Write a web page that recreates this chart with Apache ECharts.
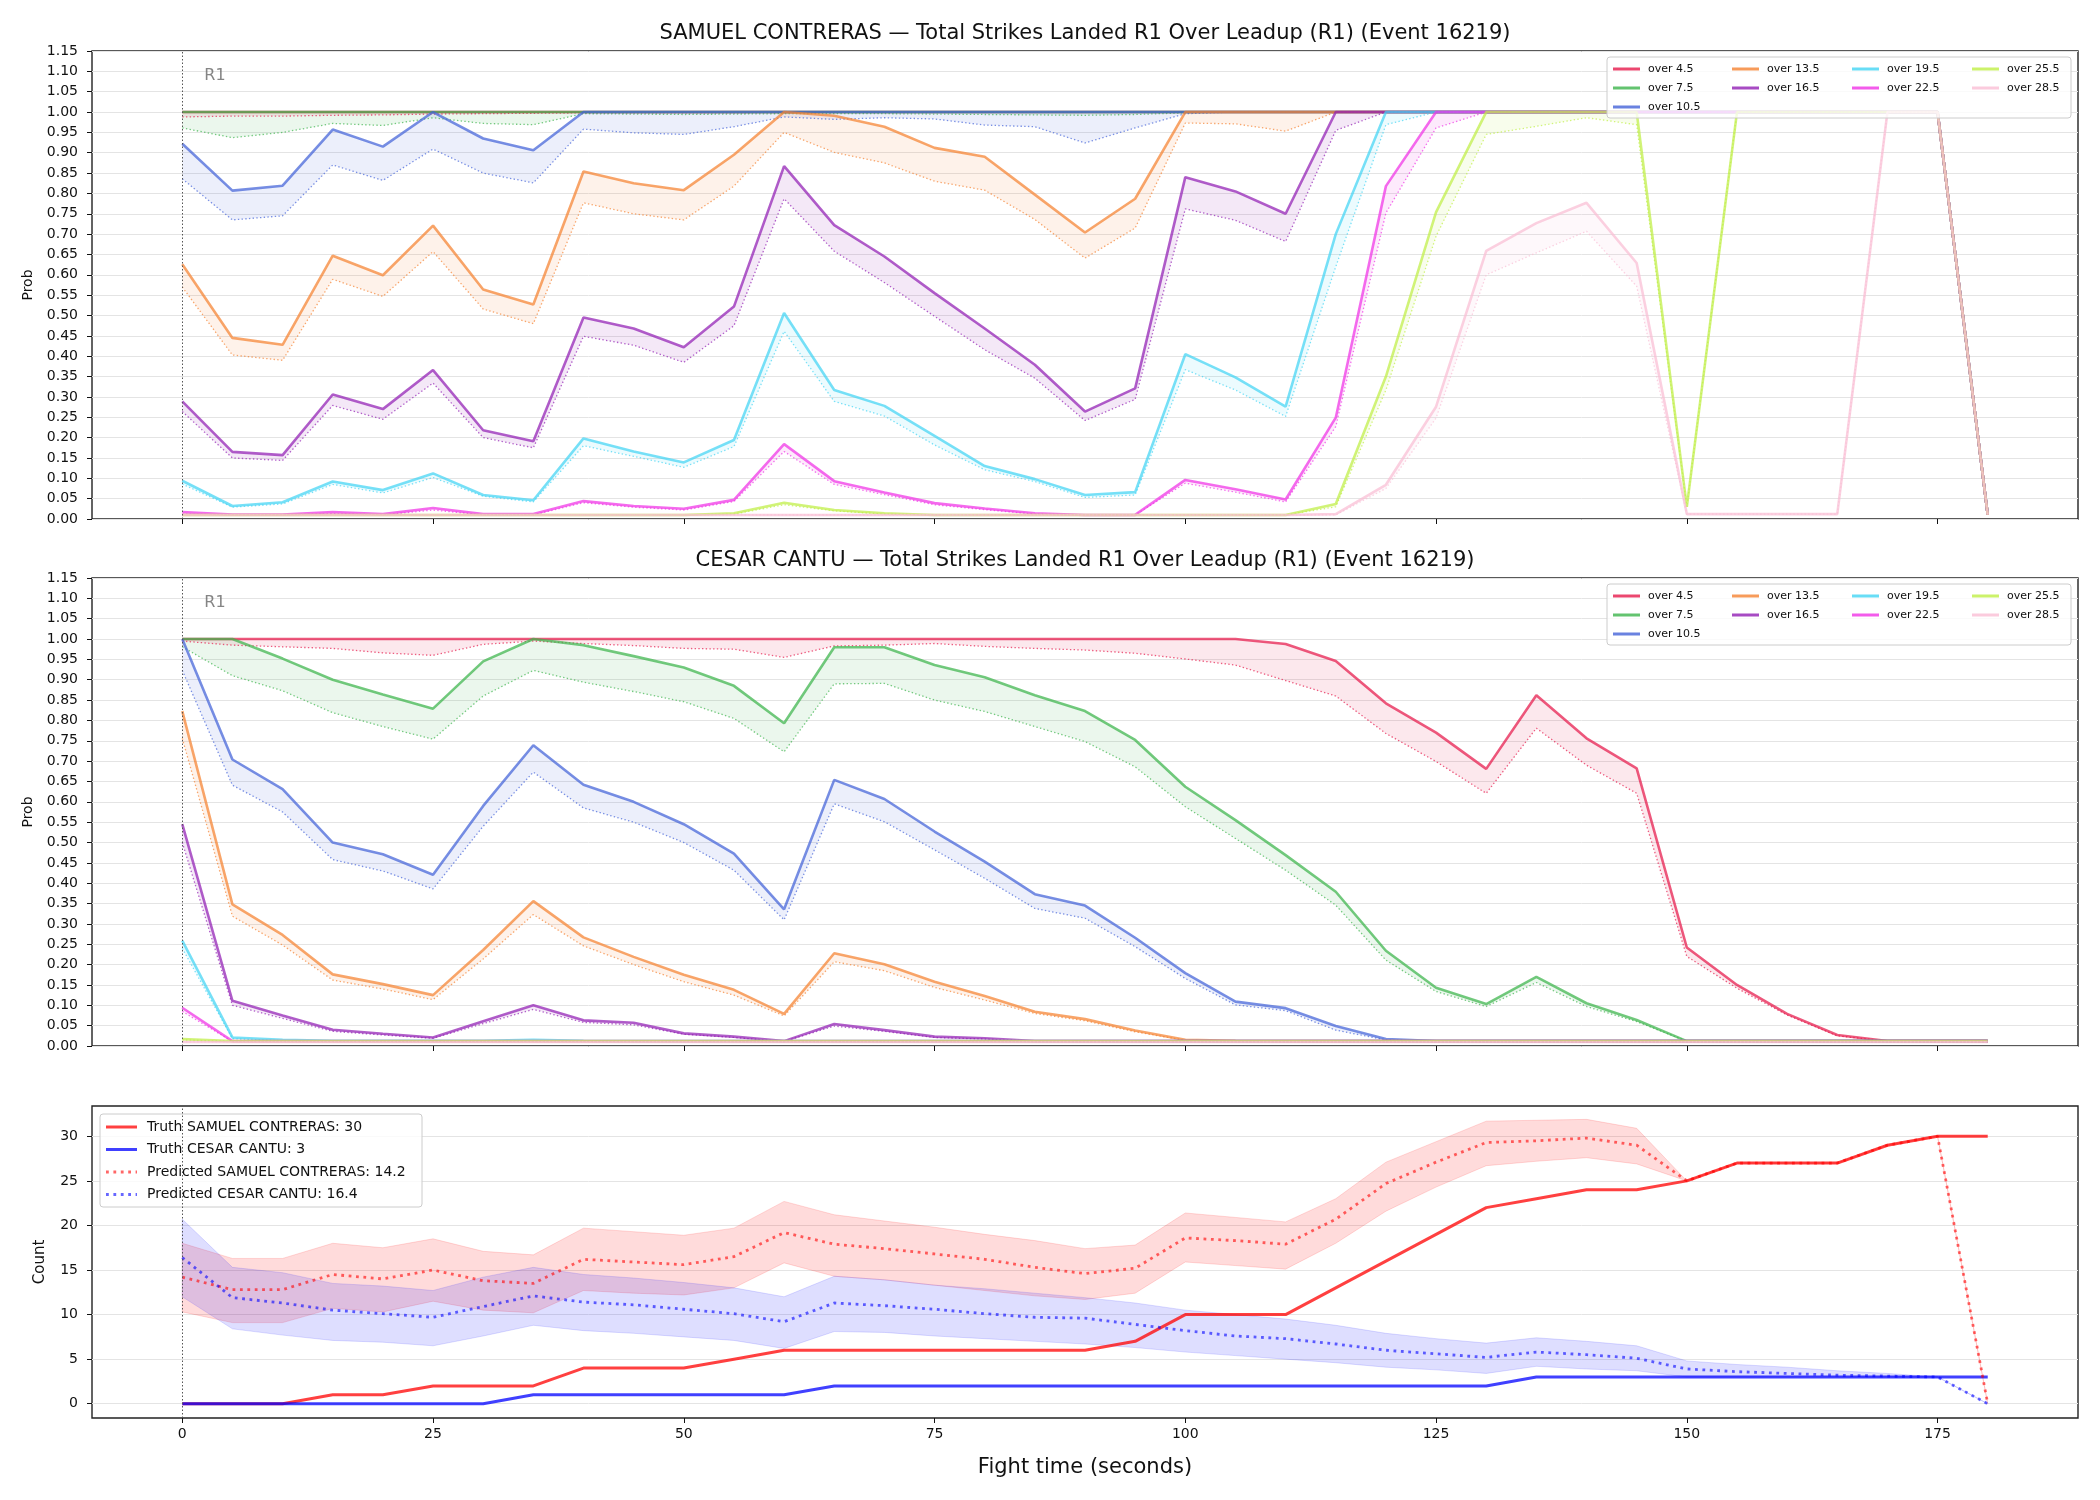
<!DOCTYPE html>
<html>
<head>
<meta charset="utf-8">
<script src="https://cdn.jsdelivr.net/npm/echarts@6/dist/echarts.min.js"></script>
<style>
  html, body { margin: 0; padding: 0; background: #fff; }
  #chart { width: 2100px; height: 1500px; }
</style>
</head>
<body>
<div id="chart"></div>
<script>
// fight time in seconds
const T = [0, 5, 10, 15, 20, 25, 30, 35, 40, 45,
  50, 55, 60, 65, 70, 75, 80, 85, 90, 95,
  100, 105, 110, 115, 120, 125, 130, 135, 140, 145,
  150, 155, 160, 165, 170, 175, 180]
const xTicks = [0, 25, 50, 75, 100, 125, 150, 175]
const countTicks = [0, 5, 10, 15, 20, 25, 30]
const roundStarts = [0]
const roundLabels = ['R1']
const thresholds = ['over 4.5', 'over 7.5', 'over 10.5', 'over 13.5', 'over 16.5', 'over 19.5', 'over 22.5', 'over 25.5', 'over 28.5']

// SAMUEL CONTRERAS: solid = prob, p = dotted (pre)
const sc45 = [1, 1, 1, 1, 1, 1, 1, 1, 1, 1,
  1, 1, 1, 1, 1, 1, 1, 1, 1, 1,
  1, 1, 1, 1, 1, 1, 1, 1, 1, 1,
  1, 1, 1, 1, 1, 1, 0.01]
const sc45p = [0.988, 0.990, 0.990, 0.992, 0.993, 0.995, 0.996, 0.997, 0.998, 0.998,
  0.998, 0.998, 0.999, 0.999, 0.999, 0.999, 0.999, 0.999, 0.999, 0.999,
  1, 1, 1, 1, 1, 1, 1, 1, 1, 1,
  1, 1, 1, 1, 1, 1, 0.01]
const sc75 = [1, 1, 1, 1, 1, 1, 1, 1, 1, 1,
  1, 1, 1, 1, 1, 1, 1, 1, 1, 1,
  1, 1, 1, 1, 1, 1, 1, 1, 1, 1,
  1, 1, 1, 1, 1, 1, 0.01]
const sc75p = [0.961, 0.937, 0.950, 0.972, 0.967, 0.986, 0.972, 0.969, 0.996, 0.995,
  0.994, 0.995, 0.996, 0.996, 0.996, 0.995, 0.994, 0.993, 0.992, 0.994,
  0.998, 1, 1, 1, 1, 1, 1, 1, 1, 1,
  1, 1, 1, 1, 1, 1, 0.01]
const sc105 = [0.922, 0.807, 0.819, 0.957, 0.915, 1, 0.935, 0.906, 1, 1,
  1, 1, 1, 1, 1, 1, 1, 1, 1, 1,
  1, 1, 1, 1, 1, 1, 1, 1, 1, 1,
  1, 1, 1, 1, 1, 1, 0.01]
const sc105p = [0.836, 0.735, 0.745, 0.870, 0.832, 0.909, 0.850, 0.826, 0.958, 0.949,
  0.945, 0.964, 0.988, 0.982, 0.986, 0.983, 0.968, 0.964, 0.924, 0.961,
  0.996, 1, 1, 1, 1, 1, 1, 1, 1, 1,
  1, 1, 1, 1, 1, 1, 0.01]
const sc135 = [0.626, 0.445, 0.428, 0.647, 0.599, 0.721, 0.564, 0.527, 0.854, 0.825,
  0.808, 0.895, 1, 0.991, 0.964, 0.912, 0.890, 0.797, 0.704, 0.787,
  1, 1, 1, 1, 1, 1, 1, 1, 1, 1,
  1, 1, 1, 1, 1, 1, 0.01]
const sc135p = [0.570, 0.403, 0.390, 0.589, 0.547, 0.657, 0.516, 0.480, 0.777, 0.750,
  0.735, 0.818, 0.950, 0.901, 0.875, 0.830, 0.808, 0.736, 0.641, 0.715,
  0.973, 0.971, 0.953, 1, 1, 1, 1, 1, 1, 1,
  1, 1, 1, 1, 1, 1, 0.01]
const sc165 = [0.289, 0.165, 0.157, 0.306, 0.270, 0.366, 0.218, 0.191, 0.495, 0.468,
  0.422, 0.522, 0.867, 0.722, 0.645, 0.555, 0.468, 0.379, 0.264, 0.321,
  0.840, 0.805, 0.750, 1, 1, 1, 1, 1, 1, 1,
  1, 1, 1, 1, 1, 1, 0.01]
const sc165p = [0.264, 0.150, 0.144, 0.279, 0.245, 0.334, 0.200, 0.175, 0.449, 0.427,
  0.385, 0.475, 0.787, 0.658, 0.581, 0.498, 0.416, 0.346, 0.242, 0.294,
  0.762, 0.734, 0.682, 0.955, 1, 1, 1, 1, 1, 1,
  1, 1, 1, 1, 1, 1, 0.01]
const sc195 = [0.094, 0.032, 0.041, 0.092, 0.071, 0.112, 0.059, 0.046, 0.198, 0.166,
  0.139, 0.194, 0.506, 0.317, 0.278, 0.204, 0.130, 0.098, 0.059, 0.066,
  0.405, 0.348, 0.276, 0.700, 1, 1, 1, 1, 1, 1,
  1, 1, 1, 1, 1, 1, 0.01]
const sc195p = [0.086, 0.029, 0.037, 0.085, 0.064, 0.102, 0.056, 0.042, 0.180, 0.154,
  0.127, 0.178, 0.461, 0.289, 0.253, 0.182, 0.121, 0.092, 0.053, 0.059,
  0.367, 0.317, 0.252, 0.620, 0.969, 1, 1, 1, 1, 1,
  1, 1, 1, 1, 1, 1, 0.01]
const sc225 = [0.017, 0.011, 0.011, 0.017, 0.012, 0.027, 0.012, 0.012, 0.044, 0.032,
  0.025, 0.047, 0.184, 0.093, 0.065, 0.039, 0.026, 0.014, 0.010, 0.010,
  0.096, 0.073, 0.048, 0.249, 0.818, 1, 1, 1, 1, 1,
  1, 1, 1, 1, 1, 1, 0.01]
const sc225p = [0.012, 0.010, 0.010, 0.013, 0.010, 0.022, 0.010, 0.010, 0.040, 0.029,
  0.022, 0.043, 0.166, 0.085, 0.060, 0.035, 0.023, 0.012, 0.010, 0.010,
  0.088, 0.066, 0.042, 0.227, 0.752, 0.961, 1, 1, 1, 1,
  1, 1, 1, 1, 1, 1, 0.01]
const sc255 = [0.010, 0.010, 0.010, 0.010, 0.010, 0.010, 0.010, 0.010, 0.010, 0.010,
  0.010, 0.014, 0.040, 0.022, 0.014, 0.010, 0.010, 0.010, 0.010, 0.010,
  0.010, 0.010, 0.010, 0.037, 0.350, 0.754, 1, 1, 1, 1,
  0.030, 1, 1, 1, 1, 1, 0.01]
const sc255p = [0.010, 0.010, 0.010, 0.010, 0.010, 0.010, 0.010, 0.010, 0.010, 0.010,
  0.010, 0.012, 0.035, 0.020, 0.012, 0.010, 0.010, 0.010, 0.010, 0.010,
  0.010, 0.010, 0.010, 0.030, 0.317, 0.695, 0.945, 0.965, 0.986, 0.969,
  0.030, 1, 1, 1, 1, 1, 0.01]
const sc285 = [0.010, 0.010, 0.010, 0.010, 0.010, 0.010, 0.010, 0.010, 0.010, 0.010,
  0.010, 0.010, 0.010, 0.010, 0.010, 0.010, 0.010, 0.010, 0.010, 0.010,
  0.010, 0.010, 0.010, 0.012, 0.084, 0.276, 0.659, 0.727, 0.777, 0.629,
  0.012, 0.012, 0.012, 0.012, 1, 1, 0.01]
const sc285p = [0.010, 0.010, 0.010, 0.010, 0.010, 0.010, 0.010, 0.010, 0.010, 0.010,
  0.010, 0.010, 0.010, 0.010, 0.010, 0.010, 0.010, 0.010, 0.010, 0.010,
  0.010, 0.010, 0.010, 0.010, 0.075, 0.248, 0.600, 0.654, 0.707, 0.572,
  0.012, 0.012, 0.012, 0.012, 1, 1, 0.01]

// CESAR CANTU
const cc45 = [1, 1, 1, 1, 1, 1, 1, 1, 1, 1,
  1, 1, 1, 1, 1, 1, 1, 1, 1, 1,
  1, 1, 0.988, 0.946, 0.842, 0.770, 0.681, 0.862, 0.756, 0.682,
  0.242, 0.150, 0.079, 0.027, 0.012, 0.012, 0.012]
const cc45p = [0.995, 0.985, 0.981, 0.977, 0.966, 0.960, 0.987, 0.995, 0.989, 0.984,
  0.977, 0.975, 0.955, 0.983, 0.985, 0.989, 0.982, 0.977, 0.973, 0.965,
  0.951, 0.936, 0.898, 0.860, 0.768, 0.699, 0.621, 0.781, 0.690, 0.621,
  0.220, 0.142, 0.076, 0.025, 0.012, 0.012, 0.012]
const cc75 = [1, 1, 0.952, 0.900, 0.864, 0.829, 0.945, 1, 0.985, 0.958,
  0.930, 0.885, 0.793, 0.980, 0.980, 0.936, 0.906, 0.862, 0.823, 0.752,
  0.637, 0.555, 0.469, 0.379, 0.234, 0.143, 0.103, 0.170, 0.105, 0.064,
  0.012, 0.012, 0.012, 0.012, 0.012, 0.012, 0.012]
const cc75p = [0.981, 0.910, 0.873, 0.819, 0.785, 0.754, 0.860, 0.923, 0.894, 0.871,
  0.846, 0.805, 0.723, 0.890, 0.891, 0.850, 0.822, 0.785, 0.748, 0.686,
  0.588, 0.510, 0.432, 0.346, 0.211, 0.134, 0.097, 0.156, 0.097, 0.060,
  0.012, 0.012, 0.012, 0.012, 0.012, 0.012, 0.012]
const cc105 = [1, 0.704, 0.631, 0.500, 0.471, 0.421, 0.590, 0.739, 0.642, 0.600,
  0.545, 0.473, 0.336, 0.654, 0.607, 0.527, 0.453, 0.373, 0.345, 0.266,
  0.179, 0.109, 0.093, 0.049, 0.017, 0.012, 0.012, 0.012, 0.012, 0.012,
  0.012, 0.012, 0.012, 0.012, 0.012, 0.012, 0.012]
const cc105p = [0.923, 0.641, 0.575, 0.458, 0.430, 0.386, 0.540, 0.673, 0.585, 0.550,
  0.500, 0.432, 0.310, 0.595, 0.551, 0.482, 0.412, 0.338, 0.314, 0.244,
  0.166, 0.101, 0.087, 0.039, 0.015, 0.012, 0.012, 0.012, 0.012, 0.012,
  0.012, 0.012, 0.012, 0.012, 0.012, 0.012, 0.012]
const cc135 = [0.823, 0.348, 0.273, 0.176, 0.152, 0.125, 0.236, 0.356, 0.267, 0.219,
  0.175, 0.138, 0.079, 0.228, 0.201, 0.158, 0.123, 0.084, 0.066, 0.038,
  0.015, 0.013, 0.012, 0.012, 0.012, 0.012, 0.012, 0.012, 0.012, 0.012,
  0.012, 0.012, 0.012, 0.012, 0.012, 0.012, 0.012]
const cc135p = [0.756, 0.319, 0.248, 0.162, 0.140, 0.114, 0.214, 0.323, 0.246, 0.200,
  0.158, 0.125, 0.074, 0.207, 0.185, 0.144, 0.113, 0.080, 0.062, 0.035,
  0.014, 0.012, 0.012, 0.012, 0.012, 0.012, 0.012, 0.012, 0.012, 0.012,
  0.012, 0.012, 0.012, 0.012, 0.012, 0.012, 0.012]
const cc165 = [0.545, 0.111, 0.075, 0.040, 0.030, 0.021, 0.061, 0.100, 0.063, 0.057,
  0.031, 0.023, 0.012, 0.054, 0.039, 0.023, 0.019, 0.012, 0.012, 0.012,
  0.012, 0.012, 0.012, 0.012, 0.012, 0.012, 0.012, 0.012, 0.012, 0.012,
  0.012, 0.012, 0.012, 0.012, 0.012, 0.012, 0.012]
const cc165p = [0.500, 0.100, 0.068, 0.036, 0.027, 0.019, 0.055, 0.090, 0.058, 0.052,
  0.029, 0.021, 0.011, 0.049, 0.036, 0.021, 0.017, 0.012, 0.012, 0.012,
  0.012, 0.012, 0.012, 0.012, 0.012, 0.012, 0.012, 0.012, 0.012, 0.012,
  0.012, 0.012, 0.012, 0.012, 0.012, 0.012, 0.012]
const cc195 = [0.259, 0.021, 0.015, 0.013, 0.013, 0.013, 0.013, 0.015, 0.013, 0.012,
  0.012, 0.012, 0.012, 0.012, 0.012, 0.012, 0.012, 0.012, 0.012, 0.012,
  0.012, 0.012, 0.012, 0.012, 0.012, 0.012, 0.012, 0.012, 0.012, 0.012,
  0.012, 0.012, 0.012, 0.012, 0.012, 0.012, 0.012]
const cc195p = [0.240, 0.018, 0.013, 0.012, 0.012, 0.012, 0.012, 0.012, 0.012, 0.012,
  0.012, 0.012, 0.012, 0.012, 0.012, 0.012, 0.012, 0.012, 0.012, 0.012,
  0.012, 0.012, 0.012, 0.012, 0.012, 0.012, 0.012, 0.012, 0.012, 0.012,
  0.012, 0.012, 0.012, 0.012, 0.012, 0.012, 0.012]
const cc225 = [0.094, 0.012, 0.012, 0.012, 0.012, 0.012, 0.012, 0.012, 0.012, 0.012,
  0.012, 0.012, 0.012, 0.012, 0.012, 0.012, 0.012, 0.012, 0.012, 0.012,
  0.012, 0.012, 0.012, 0.012, 0.012, 0.012, 0.012, 0.012, 0.012, 0.012,
  0.012, 0.012, 0.012, 0.012, 0.012, 0.012, 0.012]
const cc225p = [0.085, 0.011, 0.011, 0.011, 0.011, 0.011, 0.011, 0.011, 0.011, 0.011,
  0.011, 0.011, 0.011, 0.011, 0.011, 0.011, 0.011, 0.011, 0.011, 0.011,
  0.011, 0.011, 0.011, 0.011, 0.011, 0.011, 0.011, 0.011, 0.011, 0.011,
  0.011, 0.011, 0.011, 0.011, 0.011, 0.011, 0.011]
const cc255 = [0.017, 0.012, 0.012, 0.012, 0.012, 0.012, 0.012, 0.012, 0.012, 0.012,
  0.012, 0.012, 0.012, 0.012, 0.012, 0.012, 0.012, 0.012, 0.012, 0.012,
  0.012, 0.012, 0.012, 0.012, 0.012, 0.012, 0.012, 0.012, 0.012, 0.012,
  0.012, 0.012, 0.012, 0.012, 0.012, 0.012, 0.012]
const cc255p = [0.015, 0.011, 0.011, 0.011, 0.011, 0.011, 0.011, 0.011, 0.011, 0.011,
  0.011, 0.011, 0.011, 0.011, 0.011, 0.011, 0.011, 0.011, 0.011, 0.011,
  0.011, 0.011, 0.011, 0.011, 0.011, 0.011, 0.011, 0.011, 0.011, 0.011,
  0.011, 0.011, 0.011, 0.011, 0.011, 0.011, 0.011]
const cc285 = [0.010, 0.010, 0.010, 0.010, 0.010, 0.010, 0.010, 0.010, 0.010, 0.010,
  0.010, 0.010, 0.010, 0.010, 0.010, 0.010, 0.010, 0.010, 0.010, 0.010,
  0.010, 0.010, 0.010, 0.010, 0.010, 0.010, 0.010, 0.010, 0.010, 0.010,
  0.010, 0.010, 0.010, 0.010, 0.010, 0.010, 0.010]
const cc285p = [0.010, 0.010, 0.010, 0.010, 0.010, 0.010, 0.010, 0.010, 0.010, 0.010,
  0.010, 0.010, 0.010, 0.010, 0.010, 0.010, 0.010, 0.010, 0.010, 0.010,
  0.010, 0.010, 0.010, 0.010, 0.010, 0.010, 0.010, 0.010, 0.010, 0.010,
  0.010, 0.010, 0.010, 0.010, 0.010, 0.010, 0.010]

// 累计数（下面的图）
const truthSC = [0, 0, 0, 1, 1, 2, 2, 2, 4, 4,
  4, 5, 6, 6, 6, 6, 6, 6, 6, 7,
  10, 10, 10, 13, 16, 19, 22, 23, 24, 24,
  25, 27, 27, 27, 29, 30, 30]
const truthCC = [0, 0, 0, 0, 0, 0, 0, 1, 1, 1,
  1, 1, 1, 2, 2, 2, 2, 2, 2, 2,
  2, 2, 2, 2, 2, 2, 2, 3, 3, 3,
  3, 3, 3, 3, 3, 3, 3]
const predSC = [14.2, 12.8, 12.8, 14.5, 14.0, 15.0, 13.8, 13.5, 16.2, 15.9,
  15.6, 16.5, 19.2, 17.9, 17.4, 16.8, 16.2, 15.3, 14.6, 15.2,
  18.6, 18.3, 17.9, 20.7, 24.7, 27.1, 29.3, 29.5, 29.8, 29.0,
  25.0, 27.0, 27.0, 27.0, 29.0, 30.0, 0]
const predSCHi = [18.0, 16.3, 16.3, 18.0, 17.5, 18.5, 17.1, 16.7, 19.7, 19.3,
  18.9, 19.7, 22.7, 21.2, 20.5, 19.8, 19.0, 18.3, 17.4, 17.8,
  21.4, 20.9, 20.4, 23.0, 27.1, 29.4, 31.7, 31.8, 31.9, 30.9,
  25.0, 27.0, 27.0, 27.0, 29.0, 30.0, 0]
const predSCLo = [10.3, 9.1, 9.1, 10.7, 10.3, 11.5, 10.5, 10.2, 12.7, 12.4,
  12.2, 13.0, 15.8, 14.3, 13.9, 13.3, 12.7, 12.1, 11.7, 12.4,
  15.9, 15.5, 15.1, 18.0, 21.6, 24.3, 26.7, 27.2, 27.6, 26.9,
  25.0, 27.0, 27.0, 27.0, 29.0, 30.0, 0]
const predCC = [16.4, 11.9, 11.3, 10.5, 10.1, 9.7, 10.9, 12.1, 11.4, 11.1,
  10.6, 10.1, 9.2, 11.3, 11.0, 10.6, 10.1, 9.7, 9.6, 8.9,
  8.2, 7.6, 7.3, 6.7, 6.0, 5.6, 5.2, 5.8, 5.5, 5.1,
  3.9, 3.6, 3.4, 3.2, 3.1, 3.0, 0]
const predCCHi = [20.7, 15.3, 14.7, 13.5, 13.2, 12.7, 14.2, 15.3, 14.5, 14.1,
  13.6, 13.0, 12.0, 14.3, 13.9, 13.3, 12.9, 12.4, 11.9, 11.3,
  10.5, 10.0, 9.5, 8.8, 7.9, 7.3, 6.8, 7.4, 7.0, 6.5,
  4.8, 4.4, 4.1, 3.7, 3.4, 3.0, 0]
const predCCLo = [12.0, 8.4, 7.7, 7.1, 6.9, 6.5, 7.6, 8.8, 8.2, 7.9,
  7.5, 7.1, 6.2, 8.1, 8.0, 7.6, 7.3, 7.0, 6.7, 6.3,
  5.8, 5.4, 5.0, 4.6, 4.1, 3.8, 3.4, 4.2, 3.9, 3.7,
  3.0, 3.0, 3.0, 3.0, 3.0, 3.0, 0]

const scSolid = [sc45, sc75, sc105, sc135, sc165, sc195, sc225, sc255, sc285]
const scDotted = [sc45p, sc75p, sc105p, sc135p, sc165p, sc195p, sc225p, sc255p, sc285p]
const ccSolid = [cc45, cc75, cc105, cc135, cc165, cc195, cc225, cc255, cc285]
const ccDotted = [cc45p, cc75p, cc105p, cc135p, cc165p, cc195p, cc225p, cc255p, cc285p]

const COLORS = ['#e6194b', '#3cb44b', '#4363d8', '#f58231', '#911eb4', '#42d4f4', '#f032e6', '#bfef45', '#fabed4']
const FONT = 'DejaVu Sans'
const INK = '#111'

function rgba(hex, a) {
  const n = parseInt(hex.slice(1), 16)
  return `rgba(${(n >> 16) & 255},${(n >> 8) & 255},${n & 255},${a})`
}

// 两条线之间的填充
function band(gi, upper, lower, fill, stroke) {
  return {
    type: 'custom',
    xAxisIndex: gi,
    yAxisIndex: gi,
    silent: true,
    clip: true,
    data: [[T[0], lower[0]]],
    renderItem: function (params, api) {
      const pts = []
      T.forEach((t, i) => pts.push(api.coord([t, upper[i]])))
      for (let i = T.length - 1; i >= 0; i--) pts.push(api.coord([T[i], lower[i]]))
      return {
        type: 'polygon',
        shape: { points: pts },
        style: { fill: fill, stroke: stroke || 'none', lineWidth: stroke ? 1 : 0 }
      }
    }
  }
}

function line(gi, name, vals, color, width, type) {
  return {
    type: 'line',
    name: name,
    xAxisIndex: gi,
    yAxisIndex: gi,
    data: T.map((t, i) => [t, vals[i]]),
    showSymbol: false,
    symbol: 'none',
    silent: true,
    itemStyle: { color: color },
    lineStyle: { color: color, width: width, type: type, cap: 'butt' },
    emphasis: { disabled: true }
  }
}

function probPanel(gi, solid, dotted) {
  const out = []
  thresholds.forEach((name, k) => {
    const s = solid[k]
    const d = dotted[k]
    const hi = s.map((v, i) => Math.max(v, d[i]))
    const lo = s.map((v, i) => Math.min(v, d[i]))
    out.push(band(gi, hi, lo, rgba(COLORS[k], 0.1)))
    out.push(line(gi, name, s, rgba(COLORS[k], 0.72), 2.6, 'solid'))
    out.push(line(gi, name + ' pre', d, rgba(COLORS[k], 0.7), 1.3, [1.4, 2.3]))
  })
  return out
}

// 回合分隔线 + R1 文本
function roundMarker(gi, labelY, showText) {
  return {
    type: 'scatter',
    xAxisIndex: gi,
    yAxisIndex: gi,
    silent: true,
    symbolSize: 0,
    data: [[roundStarts[0] + 2.2, labelY]],
    label: {
      show: showText,
      formatter: roundLabels[0],
      position: 'right',
      distance: 0,
      fontSize: 16,
      color: '#666',
      fontFamily: FONT
    },
    markLine: {
      silent: true,
      symbol: 'none',
      label: { show: false },
      lineStyle: { color: '#555', width: 1, type: [1.5, 2] },
      data: roundStarts.map(x => ({ xAxis: x }))
    }
  }
}

function xAxis(gi, withLabels) {
  return {
    type: 'value',
    gridIndex: gi,
    min: -9,
    max: 189,
    axisLine: { show: false, onZero: false },
    axisTick: { show: true, length: 5, customValues: xTicks, lineStyle: { color: INK, width: 1 } },
    axisLabel: { show: withLabels, customValues: xTicks, fontSize: 14, color: INK, fontFamily: FONT, margin: 9 },
    splitLine: { show: false },
    name: withLabels ? 'Fight time (seconds)' : '',
    nameLocation: 'middle',
    nameGap: 39,
    nameTextStyle: { fontSize: 21, color: INK, fontFamily: FONT }
  }
}

function probAxis(gi) {
  return {
    type: 'value',
    gridIndex: gi,
    min: 0,
    max: 1.15,
    interval: 0.05,
    axisLine: { show: false, onZero: false },
    axisTick: { show: true, length: 5, lineStyle: { color: INK, width: 1 } },
    axisLabel: { fontSize: 14, color: INK, fontFamily: FONT, margin: 14, formatter: v => v.toFixed(2) },
    splitLine: { show: true, lineStyle: { color: '#e4e4e4', width: 1 } },
    name: 'Prob',
    nameLocation: 'middle',
    nameGap: 57,
    nameTextStyle: { fontSize: 14, color: INK, fontFamily: FONT }
  }
}

// 图例：按列拆开，模仿 ncol=4 的列优先排列
function probLegends(top) {
  const cols = [[0, 1, 2], [3, 4], [5, 6], [7, 8]]
  const lefts = [1613, 1732, 1852, 1972]
  return cols.map((c, j) => ({
    left: lefts[j],
    top: top,
    orient: 'vertical',
    padding: 0,
    itemGap: 6,
    itemWidth: 27,
    itemHeight: 3,
    selectedMode: false,
    icon: 'rect',
    itemStyle: { borderWidth: 0 },
    textStyle: { fontSize: 11, lineHeight: 13, color: INK, fontFamily: FONT, padding: [0, 0, 0, 3] },
    data: c.map(k => ({ name: thresholds[k], itemStyle: { color: rgba(COLORS[k], 0.8) } })),
    z: 6
  }))
}

const DOT_ICON = 'path://M0,0h2.8v2.8h-2.8z M7.4,0h2.8v2.8h-2.8z M14.8,0h2.8v2.8h-2.8z M22.2,0h2.8v2.8h-2.8z M29.6,0h1.4v2.8h-1.4z'

const names = {
  truthSC: 'Truth SAMUEL CONTRERAS: 30',
  truthCC: 'Truth CESAR CANTU: 3',
  predSC: 'Predicted SAMUEL CONTRERAS: 14.2',
  predCC: 'Predicted CESAR CANTU: 16.4'
}

const RED = 'rgba(255,0,0,0.75)'
const BLUE = 'rgba(0,0,255,0.75)'
const RED_P = 'rgba(255,0,0,0.6)'
const BLUE_P = 'rgba(0,0,255,0.6)'

const series = [].concat(
  probPanel(0, scSolid, scDotted),
  [roundMarker(0, 1.09, true)],
  probPanel(1, ccSolid, ccDotted),
  [roundMarker(1, 1.09, true)],
  [
    band(2, predSCHi, predSCLo, 'rgba(255,0,0,0.14)', 'rgba(255,0,0,0.14)'),
    band(2, predCCHi, predCCLo, 'rgba(0,0,255,0.13)', 'rgba(0,0,255,0.13)'),
    line(2, names.truthSC, truthSC, RED, 3, 'solid'),
    line(2, names.truthCC, truthCC, BLUE, 3, 'solid'),
    line(2, names.predSC, predSC, RED_P, 2.8, [2.8, 4.6]),
    line(2, names.predCC, predCC, BLUE_P, 2.8, [2.8, 4.6]),
    roundMarker(2, 0, false)
  ]
)

const option = {
  animation: false,
  backgroundColor: '#fff',
  textStyle: { fontFamily: FONT },
  title: [
    {
      text: 'SAMUEL CONTRERAS — Total Strikes Landed R1 Over Leadup (R1) (Event 16219)',
      left: 1085, top: 23.5, textAlign: 'center', padding: 0,
      textStyle: { fontSize: 21, lineHeight: 21, fontWeight: 'normal', color: INK, fontFamily: FONT }
    },
    {
      text: 'CESAR CANTU — Total Strikes Landed R1 Over Leadup (R1) (Event 16219)',
      left: 1085, top: 550.5, textAlign: 'center', padding: 0,
      textStyle: { fontSize: 21, lineHeight: 21, fontWeight: 'normal', color: INK, fontFamily: FONT }
    }
  ],
  grid: [
    { left: 92, top: 51, width: 1986, height: 468, show: true, borderColor: '#222', borderWidth: 1.4, backgroundColor: 'transparent' },
    { left: 92, top: 578, width: 1986, height: 468, show: true, borderColor: '#222', borderWidth: 1.4, backgroundColor: 'transparent' },
    { left: 92, top: 1106, width: 1986, height: 312, show: true, borderColor: '#222', borderWidth: 1.4, backgroundColor: 'transparent' }
  ],
  xAxis: [xAxis(0, false), xAxis(1, false), xAxis(2, true)],
  yAxis: [
    probAxis(0),
    probAxis(1),
    {
      type: 'value',
      gridIndex: 2,
      min: -1.6,
      max: 33.4,
      axisLine: { show: false, onZero: false },
      axisTick: { show: true, length: 5, customValues: countTicks, lineStyle: { color: INK, width: 1 } },
      axisLabel: { customValues: countTicks, fontSize: 14, color: INK, fontFamily: FONT, margin: 14 },
      splitLine: { show: true, lineStyle: { color: '#e4e4e4', width: 1 } },
      name: 'Count',
      nameLocation: 'middle',
      nameGap: 44,
      nameTextStyle: { fontSize: 15, color: INK, fontFamily: FONT }
    }
  ],
  legend: [].concat(
    probLegends(62.5),
    probLegends(589.5),
    [{
      left: 106,
      top: 1119,
      orient: 'vertical',
      padding: 0,
      itemGap: 6.5,
      itemWidth: 31,
      itemHeight: 3,
      selectedMode: false,
      itemStyle: { borderWidth: 0 },
      textStyle: { fontSize: 14, lineHeight: 16, color: INK, fontFamily: FONT, padding: [0, 0, 0, 5] },
      data: [
        { name: names.truthSC, icon: 'rect', itemStyle: { color: RED } },
        { name: names.truthCC, icon: 'rect', itemStyle: { color: BLUE } },
        { name: names.predSC, icon: DOT_ICON, itemStyle: { color: RED_P } },
        { name: names.predCC, icon: DOT_ICON, itemStyle: { color: BLUE_P } }
      ],
      z: 6
    }]
  ),
  // 图例底框
  graphic: [
    { type: 'rect', z: 5, shape: { x: 1607, y: 57, width: 464, height: 61, r: 3 }, style: { fill: 'rgba(255,255,255,0.8)', stroke: '#cccccc', lineWidth: 1 } },
    { type: 'rect', z: 5, shape: { x: 1607, y: 584, width: 464, height: 61, r: 3 }, style: { fill: 'rgba(255,255,255,0.8)', stroke: '#cccccc', lineWidth: 1 } },
    { type: 'rect', z: 5, shape: { x: 100, y: 1114, width: 322, height: 93, r: 3 }, style: { fill: 'rgba(255,255,255,0.8)', stroke: '#cccccc', lineWidth: 1 } }
  ],
  series: series
}

const myChart = echarts.init(document.getElementById('chart'))
myChart.setOption(option)
</script>
</body>
</html>
